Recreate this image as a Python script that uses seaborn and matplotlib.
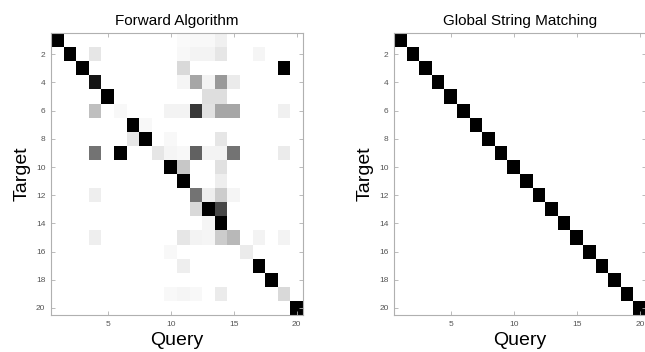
"""Match-score heatmaps: forward algorithm vs global string matching."""
import numpy as np
import pandas as pd
import matplotlib
matplotlib.use("Agg")
import matplotlib.pyplot as plt
import seaborn as sns

n_seq = 20

# forward algorithm scores (target row, query col, normalised score)
fwd_rows = [1, 1, 1, 1, 1,
            2, 2, 2, 2, 2, 2, 2,
            3, 3, 3,
            4, 4, 4, 4, 4, 4,
            5, 5, 5,
            6, 6, 6, 6, 6, 6, 6, 6, 6,
            7, 7,
            8, 8, 8, 8,
            9, 9, 9, 9, 9, 9, 9, 9, 9, 9,
            10, 10, 10,
            11, 11,
            12, 12, 12, 12, 12,
            13, 13, 13,
            14, 14,
            15, 15, 15, 15, 15, 15, 15, 15,
            16, 16,
            17, 17,
            18,
            19, 19, 19, 19, 19,
            20]
fwd_cols = [1, 11, 12, 13, 14,
            2, 4, 11, 12, 13, 14, 17,
            3, 11, 19,
            4, 11, 12, 13, 14, 15,
            5, 13, 14,
            4, 6, 10, 11, 12, 13, 14, 15, 19,
            7, 8,
            7, 8, 10, 14,
            4, 6, 9, 10, 11, 12, 13, 14, 15, 19,
            10, 11, 14,
            11, 14,
            4, 12, 13, 14, 15,
            12, 13, 14,
            13, 14,
            4, 11, 12, 13, 14, 15, 17, 19,
            10, 16,
            11, 17,
            18,
            10, 11, 12, 14, 19,
            20]
fwd_vals = [1.0, 0.02, 0.03, 0.03, 0.06,
            1.0, 0.10, 0.03, 0.05, 0.05, 0.10, 0.04,
            1.0, 0.15, 1.0,
            0.92, 0.04, 0.35, 0.05, 0.40, 0.08,
            1.0, 0.13, 0.13,
            0.25, 0.03, 0.05, 0.05, 0.78, 0.12, 0.35, 0.35, 0.06,
            1.0, 0.03,
            0.10, 1.0, 0.03, 0.10,
            0.55, 1.0, 0.10, 0.04, 0.03, 0.62, 0.05, 0.05, 0.55, 0.08,
            1.0, 0.22, 0.12,
            1.0, 0.07,
            0.07, 0.55, 0.07, 0.20, 0.04,
            0.15, 1.0, 0.72,
            0.04, 1.0,
            0.07, 0.10, 0.05, 0.04, 0.20, 0.28, 0.05, 0.05,
            0.03, 0.08,
            0.07, 1.0,
            1.0,
            0.03, 0.04, 0.03, 0.08, 0.15,
            1.0]

# global string matching: each target matches exactly one query
gsm_rows = [1, 2, 3, 4, 5, 6, 7, 8, 9, 10, 11, 12, 13, 14, 15, 16, 17, 18, 19, 20]
gsm_cols = [1, 2, 3, 4, 5, 6, 7, 8, 9, 10, 11, 12, 13, 14, 15, 16, 17, 18, 19, 20]
gsm_vals = [1.0] * 20

x_ticks = [5, 10, 15, 20]
y_ticks = [2, 4, 6, 8, 10, 12, 14, 16, 18, 20]


def to_matrix(rows, cols, vals):
    """Build a full n x n score table from sparse triples."""
    df = pd.DataFrame({"target": rows, "query": cols, "score": vals})
    mat = df.pivot_table(index="target", columns="query", values="score",
                         aggfunc="sum")
    idx = list(range(1, n_seq + 1))
    return mat.reindex(index=idx, columns=idx).fillna(0.0)


plt.rcParams["font.family"] = ["Liberation Sans", "DejaVu Sans"]

fig = plt.figure(figsize=(6.45, 3.52), dpi=100)
ax1 = fig.add_axes([0.079, 0.105, 0.3907, 0.801])
ax2 = fig.add_axes([0.611, 0.105, 0.3907, 0.801])

panels = [
    (ax1, to_matrix(fwd_rows, fwd_cols, fwd_vals), "Forward Algorithm"),
    (ax2, to_matrix(gsm_rows, gsm_cols, gsm_vals), "Global String Matching"),
]

for ax, mat, title in panels:
    sns.heatmap(mat, ax=ax, cmap="gray_r", vmin=0, vmax=1, cbar=False,
                square=False, xticklabels=False, yticklabels=False)
    for s in ax.spines.values():
        s.set_visible(True)
        s.set_color("#b0b0b0")
        s.set_linewidth(0.8)
    ax.set_xticks([t - 0.5 for t in x_ticks])
    ax.set_xticklabels([str(t) for t in x_ticks])
    ax.set_yticks([t - 0.5 for t in y_ticks])
    ax.set_yticklabels([str(t) for t in y_ticks], rotation=0)
    ax.tick_params(direction="in", length=3, width=0.6, color="#b0b0b0",
                   labelsize=6, labelcolor="#555555", top=True, right=True,
                   pad=4)
    ax.set_title(title, fontsize=11, pad=6)
    ax.set_xlabel("Query", fontsize=14, labelpad=3)
    ax.set_ylabel("Target", fontsize=14, labelpad=4)

fig.savefig("out.png", dpi=100)
